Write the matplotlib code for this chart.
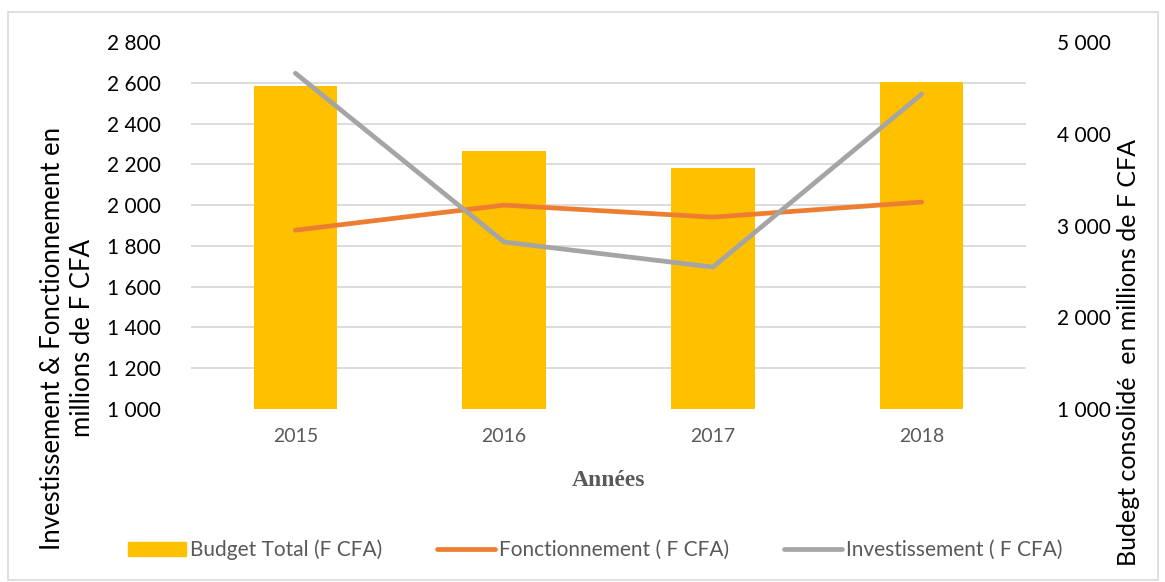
import numpy as np
import matplotlib.pyplot as plt
from matplotlib.patches import Rectangle
from matplotlib.lines import Line2D

plt.rcParams['font.family'] = ['Lato', 'DejaVu Sans']

annees = ['2015', '2016', '2017', '2018']
budget_total = [4522, 3813, 3628, 4566]
fonctionnement = [1877, 2000, 1941, 2015]
investissement = [2647, 1819, 1696, 2544]

left_ticks = np.arange(1000, 2801, 200)
right_ticks = np.arange(1000, 5001, 1000)


def fmt(v):
    return '{:,}'.format(int(v)).replace(',', ' ')


def left_to_right(v):
    # grid follows the left scale, drawn on the bar axis
    return 1000 + (np.asarray(v) - 1000) * 4000 / 1800


fig = plt.figure(figsize=(11.65, 5.82), dpi=100)
ax = fig.add_axes([191 / 1165, 1 - 409 / 582, (1026 - 191) / 1165, (409 - 42) / 582])
ax2 = ax.twinx()
x = np.arange(len(annees))

# bars on the budget (right) scale
ax.bar(x, budget_total, width=0.4, color='#FFC000', zorder=2)
ax.set_ylim(1000, 5000)
ax.set_xlim(-0.5, 3.5)
ax.yaxis.tick_right()
ax.yaxis.set_label_position('right')
ax.set_yticks(right_ticks)
ax.set_yticklabels([fmt(v) for v in right_ticks])
ax.set_yticks(left_to_right(left_ticks), minor=True)
ax.grid(which='minor', axis='y', color='#d9d9d9', linewidth=1.3, zorder=0)
ax.set_axisbelow(True)
ax.tick_params(axis='y', which='both', length=0, labelsize=15, pad=22, colors='black')
ax.set_ylabel('Budegt consolidé  en millions de F CFA', fontsize=18)
ax.yaxis.set_label_coords(1.109, 0.153)
ax.set_xticks(x)
ax.set_xticklabels(annees)
ax.tick_params(axis='x', length=0, labelsize=14, labelcolor='#595959', pad=14)
ax.set_xlabel('Années', fontsize=17, fontweight='bold', family='Liberation Serif',
              color='#595959', labelpad=18)
for s in ax.spines.values():
    s.set_visible(False)

# lines on the left scale
ax2.plot(x, fonctionnement, color='#ED7D31', linewidth=3.4, solid_capstyle='round')
ax2.plot(x, investissement, color='#A5A5A5', linewidth=3.4, solid_capstyle='round')
ax2.set_ylim(1000, 2800)
ax2.yaxis.tick_left()
ax2.yaxis.set_label_position('left')
ax2.set_yticks(left_ticks)
ax2.set_yticklabels([fmt(v) for v in left_ticks])
ax2.tick_params(axis='y', length=0, labelsize=15, pad=22)
ax2.set_ylabel('Investissement & Fonctionnement en\nmillions de F CFA', fontsize=18.5,
               linespacing=1.25)
ax2.yaxis.set_label_coords(-0.115, 0.193)
for s in ax2.spines.values():
    s.set_visible(False)

handles = [Rectangle((0, 0), 1, 1, color='#FFC000'),
           Line2D([], [], color='#ED7D31', linewidth=3.4, solid_capstyle='round'),
           Line2D([], [], color='#A5A5A5', linewidth=3.4, solid_capstyle='round')]
labels = ['Budget Total (F CFA)', 'Fonctionnement ( F CFA)', 'Investissement ( F CFA)']
leg = fig.legend(handles, labels, loc='center', bbox_to_anchor=(0.511, 1 - 550 / 582),
                 ncol=3, frameon=False, fontsize=15, handlelength=2.8,
                 handletextpad=0.2, columnspacing=2.6, labelcolor='#595959')

# outer border
fig.add_artist(Rectangle((8 / 1165, 2 / 582), 1150 / 1165, 568 / 582, transform=fig.transFigure,
                         fill=False, edgecolor='#d9d9d9', linewidth=1.2))

fig.savefig('out.png', dpi=100)
